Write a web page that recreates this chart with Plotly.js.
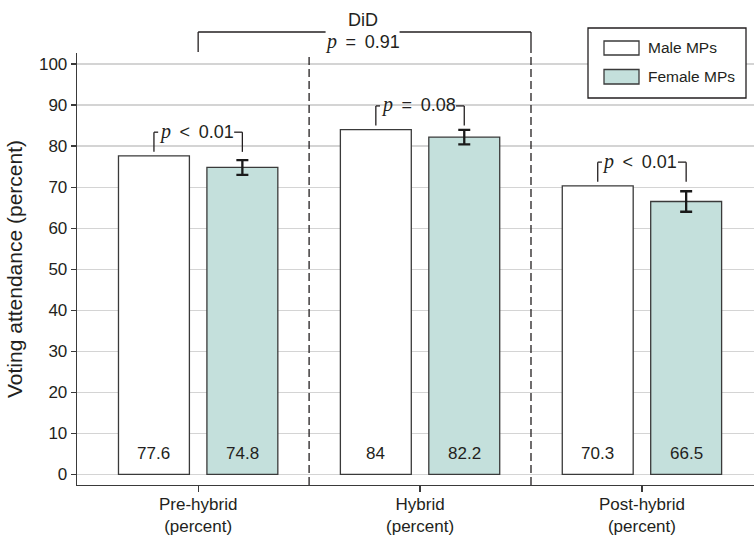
<!DOCTYPE html>
<html><head><meta charset="utf-8">
<script src="https://cdn.plot.ly/plotly-3.0.1.min.js"></script>
<style>html,body{margin:0;padding:0;background:#fff}</style>
</head><body><div id="chart" style="width:754px;height:535px"></div>
<script>
// ---- data ----
const periods = ['Pre-hybrid', 'Hybrid', 'Post-hybrid'];
const tickLabels = ['Pre-hybrid<br>(percent)', 'Hybrid<br>(percent)', 'Post-hybrid<br>(percent)'];
const seriesNames = ['Male MPs', 'Female MPs'];
const maleValues = [77.6, 84, 70.3];
const femaleValues = [74.8, 82.2, 66.5];
const femaleErrors = [1.8, 1.75, 2.5];
const pSymbols = ['&lt;', '=', '&lt;'];
const pValues = ['0.01', '0.08', '0.01'];
const didLabel = 'DiD';
const didSymbol = '=';
const didValue = '0.91';
const yTicks = [0, 10, 20, 30, 40, 50, 60, 70, 80, 90, 100];

// ---- layout geometry ----
const W = 754, H = 535;
const M = {l: 77, r: 0, t: 53, b: 50};
const PW = W - M.l - M.r, PH = H - M.t - M.b;
const xr = [-0.546, 2.505], yr = [-2.6, 102.7];
const bargap = 0.203, bargroupgap = 0.198;
const slot = (1 - bargap) / 2;
const maleX = periods.map((_, i) => i - slot / 2);
const femaleX = periods.map((_, i) => i + slot / 2);

const xToPx = v => M.l + (v - xr[0]) / (xr[1] - xr[0]) * PW;
const yToPx = v => M.t + PH - (v - yr[0]) / (yr[1] - yr[0]) * PH;
const px2p = px => (px - M.l) / PW;
const py2p = py => (M.t + PH - py) / PH;

const ink = '#231f20';
const lineCol = '#3a3a3a';
const teal = '#c4e0dc';
const FONT = 'Liberation Sans, Arial, sans-serif';
const pItalic = '<span style="font-family:\'Liberation Serif\',serif;font-size:20px"><i>p</i></span>';
const sp = '\u2009';

const shapes = [];
const annotations = [];
function seg(x0, y0, x1, y1, extra) {
  shapes.push(Object.assign({type: 'line', xref: 'paper', yref: 'paper',
    x0: px2p(x0), y0: py2p(y0), x1: px2p(x1), y1: py2p(y1),
    line: {color: ink, width: 1.3}}, extra || {}));
}

// p-value brackets per period
periods.forEach((p, i) => {
  const bottom = Math.max(maleValues[i], femaleValues[i] + femaleErrors[i]) + 1.0;
  const top = bottom + 4.8;
  const xl = xToPx(maleX[i]), xrt = xToPx(femaleX[i]);
  const yb = yToPx(bottom), yt = yToPx(top);
  const xc = xToPx(i) - 2;
  const gap = 38;
  seg(xl, yb, xl, yt);
  seg(xl, yt, xc - gap, yt);
  seg(xc + gap, yt, xrt, yt);
  seg(xrt, yt, xrt, yb);
  annotations.push({xref: 'paper', yref: 'paper', x: px2p(xc), y: py2p(yt - 1),
    text: pItalic + ' ' + sp + pSymbols[i] + sp + ' ' + pValues[i], showarrow: false,
    xanchor: 'center', yanchor: 'middle', font: {family: FONT, size: 18, color: ink}});
});

// dashed separators
[0.5, 1.5].forEach((v, k) => {
  const x = xToPx(v);
  shapes.push({type: 'line', xref: 'paper', yref: 'paper', x0: px2p(x), x1: px2p(x),
    y0: 0, y1: py2p(k === 0 ? 53 : 52), line: {color: ink, width: 1.3, dash: '8px,4px'}});
});

// DiD bracket
(function () {
  const xl = xToPx(0), xrt = xToPx(1.5);
  const yt = 32, yb = 52;
  const xc = (xl + xrt) / 2 - 2;
  seg(xl, yb, xl, yt);
  seg(xl, yt, xc - 37, yt);
  seg(xc + 37, yt, xrt, yt);
  seg(xrt, yt, xrt, yb);
  annotations.push({xref: 'paper', yref: 'paper', x: px2p(xc), y: py2p(20), text: didLabel,
    showarrow: false, xanchor: 'center', yanchor: 'middle', font: {family: FONT, size: 18, color: ink}});
  annotations.push({xref: 'paper', yref: 'paper', x: px2p(xc), y: py2p(41), text: pItalic + ' ' + sp + didSymbol + sp + ' ' + didValue,
    showarrow: false, xanchor: 'center', yanchor: 'middle', font: {family: FONT, size: 18, color: ink}});
})();

// value labels inside bars
maleValues.forEach((v, i) => annotations.push({xref: 'x', yref: 'y', x: maleX[i], y: 5, text: String(v),
  showarrow: false, xanchor: 'center', yanchor: 'middle', font: {family: FONT, size: 17, color: ink}}));
femaleValues.forEach((v, i) => annotations.push({xref: 'x', yref: 'y', x: femaleX[i], y: 5, text: String(v),
  showarrow: false, xanchor: 'center', yanchor: 'middle', font: {family: FONT, size: 17, color: ink}}));

// custom legend
shapes.push({type: 'rect', xref: 'paper', yref: 'paper', x0: px2p(588), x1: px2p(746), y0: py2p(98), y1: py2p(28),
  line: {color: ink, width: 1.3}, fillcolor: 'rgba(255,255,255,1)', layer: 'above'});
[[41, 55, '#ffffff'], [69.5, 84, teal]].forEach(([y0, y1, c], k) => {
  shapes.push({type: 'rect', xref: 'paper', yref: 'paper', x0: px2p(604), x1: px2p(639), y0: py2p(y1), y1: py2p(y0),
    line: {color: lineCol, width: 1.3}, fillcolor: c, layer: 'above'});
  annotations.push({xref: 'paper', yref: 'paper', x: px2p(646), y: py2p((y0 + y1) / 2), text: seriesNames[k],
    showarrow: false, xanchor: 'left', yanchor: 'middle', font: {family: FONT, size: 15.5, color: ink}});
});

const traces = [
  {type: 'bar', name: seriesNames[0], x: periods, y: maleValues,
   marker: {color: '#ffffff', line: {color: lineCol, width: 1.3}}, hoverinfo: 'none'},
  {type: 'bar', name: seriesNames[1], x: periods, y: femaleValues,
   marker: {color: teal, line: {color: lineCol, width: 1.3}}, hoverinfo: 'none',
   error_y: {type: 'data', array: femaleErrors, visible: true, color: '#1a1a1a', thickness: 2.3, width: 6}}
];

const layout = {
  width: W, height: H, margin: M, paper_bgcolor: '#fff', plot_bgcolor: '#fff',
  barmode: 'group', bargap: bargap, bargroupgap: bargroupgap, showlegend: false,
  font: {family: FONT, color: ink},
  xaxis: {range: xr, tickmode: 'array', tickvals: periods, ticktext: tickLabels,
    ticks: 'outside', ticklen: 6, tickcolor: lineCol, tickwidth: 1.3, ticklabelstandoff: -3,
    showline: true, linecolor: lineCol, linewidth: 1.3, showgrid: false, zeroline: false,
    tickfont: {family: FONT, size: 17, color: ink}},
  yaxis: {range: yr, tickmode: 'array', tickvals: yTicks, ticks: 'outside', ticklen: 5,
    tickcolor: lineCol, tickwidth: 1.3, showline: true, linecolor: lineCol, linewidth: 1.3,
    showgrid: true, gridcolor: '#d4d4d4', gridwidth: 1.3, zeroline: false,
    tickfont: {family: FONT, size: 17, color: ink},
    title: {text: 'Voting attendance (percent)', font: {family: FONT, size: 21, color: ink}, standoff: 10}},
  shapes: shapes, annotations: annotations
};

Plotly.newPlot('chart', traces, layout, {displayModeBar: false, staticPlot: true});
</script></body></html>
